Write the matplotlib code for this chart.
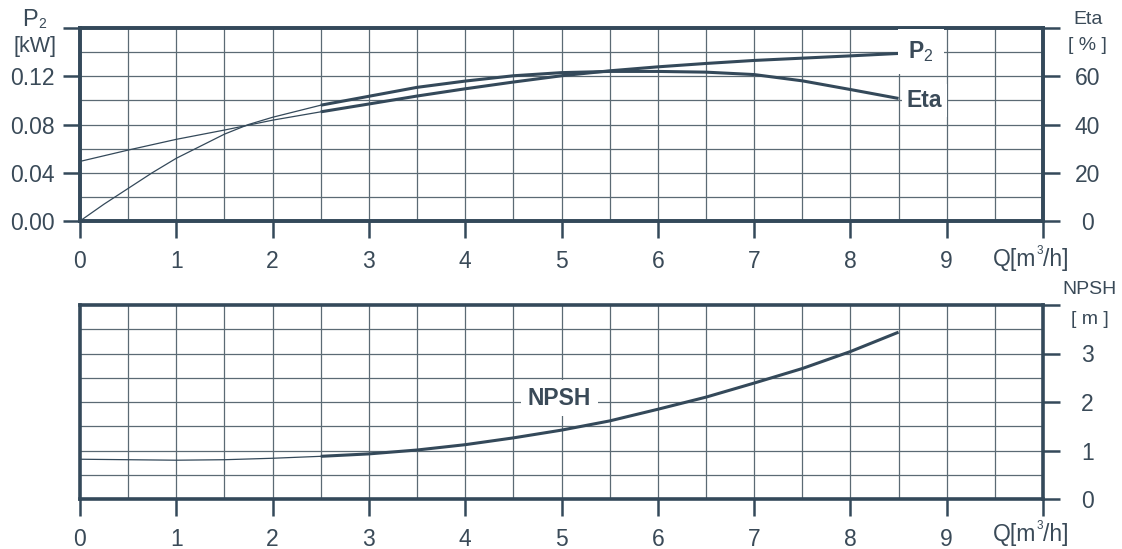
"""Pump curve sheet: P2 / Eta over flow, and NPSH over flow."""

import matplotlib

matplotlib.use("Agg")

import matplotlib.pyplot as plt

plt.rcParams["font.family"] = ["Liberation Sans", "DejaVu Sans"]
plt.rcParams["mathtext.fontset"] = "custom"
plt.rcParams["mathtext.rm"] = "Liberation Sans"
plt.rcParams["mathtext.bf"] = "Liberation Sans:bold"

# flow rate Q [m3/h]
flow = [0, 0.5, 1, 1.5, 2, 2.5, 3, 3.5, 4, 4.5, 5, 5.5, 6, 6.5, 7, 7.5, 8, 8.5]

# shaft power P2 [kW]
p2 = [0.0494, 0.0588, 0.0677, 0.0754, 0.0836, 0.0905, 0.0970, 0.1036,
      0.1096, 0.1152, 0.1204, 0.1245, 0.1278, 0.1306, 0.1331, 0.1350,
      0.1369, 0.1389]

# efficiency [%]
eta_flow = [0, 0.25, 0.5, 0.75, 1, 1.25, 1.5, 1.75, 2, 2.5, 3, 3.5, 4,
            4.5, 5, 5.5, 6, 6.5, 7, 7.5, 8, 8.5]
eta = [0, 7.0, 13.5, 20.0, 26.0, 31.0, 36.0, 40.0, 43.0, 48.0, 51.7, 55.4,
       58.0, 60.2, 61.5, 62.0, 62.0, 61.7, 60.7, 58.1, 54.5, 50.8]

# NPSH [m]
npsh = [0.82, 0.81, 0.80, 0.81, 0.84, 0.88, 0.93, 1.01, 1.12, 1.26, 1.42,
        1.61, 1.85, 2.10, 2.39, 2.69, 3.04, 3.44]

x_ticks = list(range(0, 11))
x_tick_labels = [str(v) for v in range(0, 10)] + [""]
p2_ticks = [0.00, 0.04, 0.08, 0.12, 0.16]
p2_tick_labels = ["0.00", "0.04", "0.08", "0.12", ""]
eta_ticks = [0, 20, 40, 60, 80]
eta_tick_labels = ["0", "20", "40", "60", ""]
npsh_ticks = [0, 1, 2, 3, 4]
npsh_tick_labels = ["0", "1", "2", "3", ""]

THIN_UNTIL = 2.5

INK = "#34495a"
TEXT = "#3a4a58"
GRID = "#5b6a74"

W, H = 1122, 549


def px(x, y):
    return x / W, 1 - y / H


def split(xs, ys):
    thin = [(a, b) for a, b in zip(xs, ys) if a <= THIN_UNTIL]
    thick = [(a, b) for a, b in zip(xs, ys) if a >= THIN_UNTIL]
    return list(zip(*thin)), list(zip(*thick))


def draw_curve(axis, xs, ys):
    thin, thick = split(xs, ys)
    axis.plot(thin[0], thin[1], color=INK, linewidth=0.9, zorder=3)
    axis.plot(thick[0], thick[1], color=INK, linewidth=2.2, zorder=3,
              solid_capstyle="butt")


def style_axis(axis):
    for spine in axis.spines.values():
        spine.set_linewidth(2.6)
        spine.set_color(INK)
    axis.tick_params(direction="out", length=12, width=1.8, color=INK,
                     labelsize=16.5, labelcolor=TEXT)
    axis.tick_params(axis="x", pad=9)
    axis.tick_params(axis="y", pad=6)


def add_grid(axis, y_step, y_max):
    for gx in [i * 0.5 for i in range(1, 20)]:
        axis.axvline(gx, color=GRID, linewidth=0.9, zorder=1)
    n = int(round(y_max / y_step))
    for k in range(1, n):
        axis.axhline(k * y_step, color=GRID, linewidth=0.9, zorder=1)


figure = plt.figure(figsize=(W / 100, H / 100), dpi=100)

# ---- top chart: P2 and Eta ----
ax_top = figure.add_axes([80 / W, 1 - 221 / H, 963 / W, 193 / H])
ax_top.set_xlim(0, 10)
ax_top.set_ylim(0, 0.16)
add_grid(ax_top, 0.02, 0.16)
draw_curve(ax_top, flow, p2)
ax_top.set_xticks(x_ticks)
ax_top.set_xticklabels(x_tick_labels)
ax_top.set_yticks(p2_ticks)
ax_top.set_yticklabels(p2_tick_labels)
style_axis(ax_top)

ax_eta = ax_top.twinx()
ax_eta.set_ylim(0, 80)
draw_curve(ax_eta, eta_flow, eta)
ax_eta.set_yticks(eta_ticks)
ax_eta.set_yticklabels(eta_tick_labels)
style_axis(ax_eta)
ax_eta.tick_params(axis="y", pad=20)
plt.setp(ax_eta.get_yticklabels(), ha="center")

ax_eta.text(8.73, 70.2, r"$\mathbf{P}_{2}$", fontsize=16.5, color=TEXT,
            ha="center", va="center", zorder=5,
            bbox=dict(boxstyle="square,pad=0.45", facecolor="white",
                      edgecolor="none"))
ax_eta.text(8.77, 50, "Eta", fontsize=16.5, fontweight="bold", color=TEXT,
            ha="center", va="center", zorder=5,
            bbox=dict(boxstyle="square,pad=0.22", facecolor="white",
                      edgecolor="none"))

# ---- bottom chart: NPSH ----
ax_npsh = figure.add_axes([80 / W, 1 - 499 / H, 963 / W, 194 / H])
ax_npsh.set_xlim(0, 10)
ax_npsh.set_ylim(0, 4)
add_grid(ax_npsh, 0.5, 4)
draw_curve(ax_npsh, flow, npsh)
ax_npsh.set_xticks(x_ticks)
ax_npsh.set_xticklabels(x_tick_labels)
ax_npsh.yaxis.tick_right()
ax_npsh.set_yticks(npsh_ticks)
ax_npsh.set_yticklabels(npsh_tick_labels)
style_axis(ax_npsh)
ax_npsh.tick_params(axis="y", pad=20)
plt.setp(ax_npsh.get_yticklabels(), ha="center")

ax_npsh.text(4.98, 2.08, "NPSH", fontsize=16.5, fontweight="bold",
             color=TEXT, ha="center", va="center", zorder=5,
             bbox=dict(boxstyle="square,pad=0.3", facecolor="white",
                       edgecolor="none"))

# ---- axis captions ----
figure.text(*px(30, 20), "P", fontsize=17, color=TEXT, ha="center",
            va="center")
figure.text(*px(42, 24), "2", fontsize=10, color=TEXT, ha="center",
            va="center")
figure.text(*px(35, 47), "[kW]", fontsize=15.5, color=TEXT, ha="center",
            va="center")
figure.text(*px(1088, 19), "Eta", fontsize=14, color=TEXT, ha="center",
            va="center")
figure.text(*px(1087, 45), "[ % ]", fontsize=14, color=TEXT, ha="center",
            va="center")
figure.text(*px(1089, 289), "NPSH", fontsize=14, color=TEXT, ha="center",
            va="center")
figure.text(*px(1090, 320), "[ m ]", fontsize=14, color=TEXT, ha="center",
            va="center")

for y_q in (260, 535):
    figure.text(*px(1036, y_q), "Q[m", fontsize=16.5, color=TEXT,
                ha="right", va="center")
    figure.text(*px(1039.5, y_q - 9), "3", fontsize=8.5, color=TEXT,
                ha="center", va="center")
    figure.text(*px(1043, y_q), "/h]", fontsize=16.5, color=TEXT,
                ha="left", va="center")

figure.savefig("out.png", dpi=100)
plt.close(figure)
